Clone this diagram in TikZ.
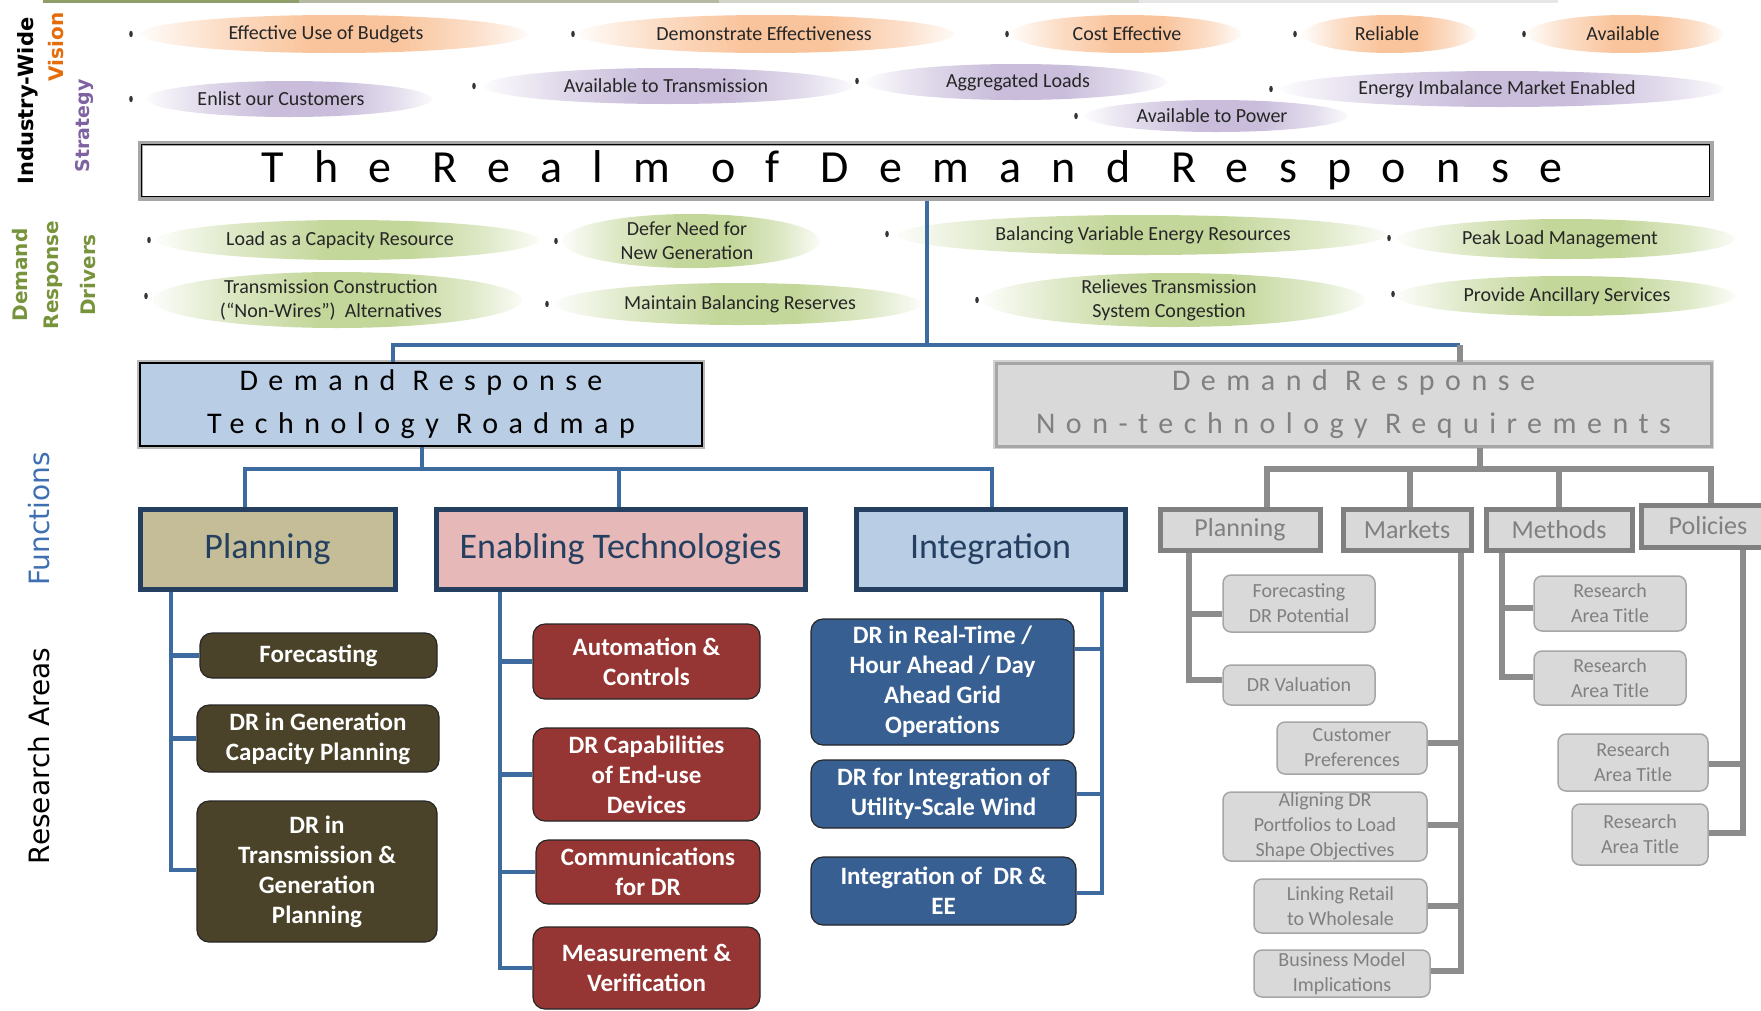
\documentclass[tikz,border=0pt]{standalone}
\usepackage{fontspec}
\setmainfont{Carlito}
\newfontfamily\dvs{DejaVu Sans}
\newfontfamily\ttlfont[LetterSpace=66]{Carlito}
\newfontfamily\hdfont[LetterSpace=35]{Carlito}
\usetikzlibrary{shapes.geometric}
\definecolor{visC}{HTML}{F9C49C}
\definecolor{strC}{HTML}{C9BDDB}
\definecolor{drvC}{HTML}{C4D79B}
\definecolor{navy}{HTML}{243F60}
\definecolor{conB}{HTML}{3D6A9F}
\definecolor{conG}{HTML}{8C8C8C}
\definecolor{tanF}{HTML}{C4BD97}
\definecolor{pinkF}{HTML}{E6B9B8}
\definecolor{lblueF}{HTML}{B9CDE5}
\definecolor{oliveB}{HTML}{4A4329}
\definecolor{redB}{HTML}{963634}
\definecolor{blueB}{HTML}{375F92}
\definecolor{grayF}{HTML}{D9D9D9}
\definecolor{grayT}{HTML}{808080}
\definecolor{grayL}{HTML}{A6A6A6}
\definecolor{orangeT}{HTML}{E46C0A}
\definecolor{purpleT}{HTML}{7F63A1}
\definecolor{greenT}{HTML}{77933C}
\definecolor{funcT}{HTML}{3F6FB3}
\definecolor{top1}{HTML}{8E9E6A}
\definecolor{top2}{HTML}{B5BBA2}
\definecolor{top3}{HTML}{D3D5CB}
\definecolor{top4}{HTML}{E6E6E6}
\pgfdeclarehorizontalshading{visshade}{100bp}{color(0bp)=(white); color(25bp)=(visC!5); color(36bp)=(visC!60); color(47bp)=(visC); color(58bp)=(visC); color(68bp)=(visC!55); color(75bp)=(visC!8); color(100bp)=(white)}
\pgfdeclarehorizontalshading{strshade}{100bp}{color(0bp)=(white); color(25bp)=(strC!5); color(36bp)=(strC!60); color(47bp)=(strC); color(58bp)=(strC); color(68bp)=(strC!55); color(75bp)=(strC!8); color(100bp)=(white)}
\pgfdeclarehorizontalshading{drvshade}{100bp}{color(0bp)=(white); color(25bp)=(drvC!5); color(36bp)=(drvC!60); color(47bp)=(drvC); color(58bp)=(drvC); color(68bp)=(drvC!55); color(75bp)=(drvC!8); color(100bp)=(white)}
\newcommand{\EL}[8]{\shade[shading=#2] (#3,#4) ellipse [x radius=#5pt, y radius=#6pt]; \node[eltext] (#1) at (#7,#4) {#8};}
\begin{document}
\begin{tikzpicture}[x=1pt,y=-1pt,
  eltext/.style={font=\fontsize{20}{24}\selectfont, text=black!85, align=center, inner sep=0},
  bconn/.style={draw=conB, line width=4.5pt},
  gconn/.style={draw=conG, line width=5.5pt},
  fbox/.style={draw=navy, line width=5pt, inner sep=0, font=\fontsize{36}{40}\selectfont, text=navy},
  rbox/.style={rounded corners=12pt, draw=black!85, line width=1.2pt, text=white, font=\bfseries\fontsize{25}{30}\selectfont, align=center, inner sep=0},
  gfbox/.style={draw=grayT, line width=5pt, fill=grayF, text=grayT, font=\fontsize{26}{30}\selectfont, inner sep=0},
  gbox/.style={rounded corners=8pt, draw=grayL, line width=1.5pt, fill=grayF, text=grayT, font=\fontsize{20}{25}\selectfont, align=center, inner sep=0},
  side/.style={rotate=90, inner sep=0}]
\useasboundingbox (0,0) rectangle (1761,1010);
\fill[top1] (43,0) rectangle (299,3);
\fill[top2] (299,0) rectangle (719,3);
\fill[top3] (719,0) rectangle (1139,3);
\fill[top4] (1139,0) rectangle (1558,3);
% side labels
\node[side, font=\dvs\bfseries\fontsize{21}{24}\selectfont, text=black] (lInd) at (28,101) {Industry-Wide};
\node[side, font=\dvs\bfseries\fontsize{20}{24}\selectfont, text=orangeT] (lVis) at (56,47) {Vision};
\node[side, font=\dvs\bfseries\fontsize{19}{24}\selectfont, text=purpleT] (lStr) at (84,126) {Strategy};
\node[side, font=\dvs\bfseries\fontsize{20}{24}\selectfont, text=greenT] (lDem) at (20,275) {Demand};
\node[side, font=\dvs\bfseries\fontsize{20}{24}\selectfont, text=greenT] (lRes) at (53,275) {Response};
\node[side, font=\dvs\bfseries\fontsize{20}{24}\selectfont, text=greenT] (lDrv) at (88,275) {Drivers};
\node[side, font=\dvs\fontsize{28}{32}\selectfont, text=funcT] (lFun) at (39,519) {Functions};
\node[side, font=\dvs\fontsize{28}{32}\selectfont, text=black] (lRA) at (39,756) {Research Areas};
% vision
\EL{v1}{visshade}{334}{34}{194}{19}{326}{Effective Use of Budgets}
\EL{v2}{visshade}{766}{34}{188}{19}{764}{Demonstrate Effectiveness}
\EL{v3}{visshade}{1126}{34}{115}{19}{1127}{Cost Effective}
\EL{v4}{visshade}{1390}{34}{87}{19}{1387}{Reliable}
\EL{v5}{visshade}{1625}{34}{98}{19}{1623}{Available}
% strategy
\EL{s1}{strshade}{289}{99}{143}{18}{281}{Enlist our Customers}
\EL{s2}{strshade}{668}{86}{185}{18}{666}{Available to Transmission}
\EL{s3}{strshade}{1016}{82}{151}{18}{1018}{Aggregated Loads}
\EL{s4}{strshade}{1502}{89}{222}{18}{1497}{Energy Imbalance Market Enabled}
\EL{s5}{strshade}{1216}{116}{132}{16}{1212}{Available to Power}
% drivers
\EL{d1}{drvshade}{348}{240}{191}{20}{340}{Load as a Capacity Resource}
\EL{d2}{drvshade}{691}{241}{129}{27}{687}{Defer Need for\\New Generation}
\EL{d3}{drvshade}{1142}{235}{245}{20}{1143}{Balancing Variable Energy Resources}
\EL{d4}{drvshade}{1566}{239}{169}{20}{1560}{Peak Load Management}
\EL{d5}{drvshade}{337}{300}{185}{28}{331}{Transmission Construction\\(“Non-Wires”)\ \ Alternatives}
\EL{d6}{drvshade}{738}{304}{183}{21}{740}{Maintain Balancing Reserves}
\EL{d7}{drvshade}{1174}{300}{191}{27}{1169}{Relieves Transmission\\System Congestion}
\EL{d8}{drvshade}{1566}{296}{169}{20}{1567}{Provide Ancillary Services}
% tiny bullets
\foreach \x/\y in {131/34,573/34,1007/34,1295/34,1524/34,131/99,474/86,857/81,1271/89,1076/116,149/240,556/241,887/234,1389/238,146/296,547/304,977/300,1393/294}
  \fill[black!80] (\x,\y) ellipse [x radius=1.8pt, y radius=3.2pt];
% title
\node[draw=gray!70, line width=5pt, fill=white, minimum width=1571pt, minimum height=55pt, inner sep=0, font=\ttlfont\fontsize{46}{50}\selectfont] (title) at (925.5,170.5) {The Realm of Demand Response\hspace*{27pt}};
\draw[line width=1.5pt] ([shift={(4pt,-4pt)}]title.north west) rectangle ([shift={(-4pt,4pt)}]title.south east);
% junctions
\coordinate (j1) at (927,345);
\coordinate (jl) at (393,345);
\coordinate (jr) at (1460,345);
\coordinate (j2) at (422,469);
\coordinate (t1) at (245,469);
\coordinate (t2) at (619,469);
\coordinate (t3) at (992,469);
\coordinate (k1) at (1480,469);
\coordinate (u1) at (1267,469);
\coordinate (u2) at (1410,469);
\coordinate (u3) at (1559,469);
\coordinate (u4) at (1711,469);
% second-level boxes
\node[draw=black, line width=2.5pt, preaction={draw=gray!55, line width=6pt}, fill=lblueF, minimum width=562pt, minimum height=83pt, inner sep=0, align=center, font=\hdfont\fontsize{30}{43}\selectfont] (rm) at (421,404.5) {Demand Response\\Technology Roadmap};
\node[draw=grayL, line width=3pt, preaction={draw=gray!35, line width=6pt}, fill=grayF, text=grayT, minimum width=715pt, minimum height=83pt, inner sep=0, align=center, font=\hdfont\fontsize{30}{43}\selectfont] (nt) at (1353.5,404.5) {Demand Response\\Non-technology Requirements};
% functions
\node[fbox, fill=tanF, minimum width=255pt, minimum height=80pt] (fplan) at (267.5,549) {Planning};
\node[fbox, fill=pinkF, minimum width=369pt, minimum height=80pt] (fenab) at (620.5,549) {Enabling Technologies};
\node[fbox, fill=lblueF, minimum width=269pt, minimum height=80pt] (finteg) at (990.5,549) {Integration};
\node[gfbox, minimum width=160pt, minimum height=41pt] (gplan) at (1240,529.5) {Planning};
\node[gfbox, minimum width=128pt, minimum height=41pt] (gmark) at (1407,529.5) {Markets};
\node[gfbox, minimum width=146pt, minimum height=41pt] (gmeth) at (1559,529.5) {Methods};
\node[gfbox, minimum width=133pt, minimum height=42pt] (gpol) at (1708,526) {Policies};
% research areas
\node[rbox, fill=oliveB, minimum width=237pt, minimum height=45pt] (rp1) at (318.5,655.5) {Forecasting};
\node[rbox, fill=oliveB, minimum width=242pt, minimum height=67pt] (rp2) at (318,738.5) {DR in Generation\\Capacity Planning};
\node[rbox, fill=oliveB, minimum width=240pt, minimum height=141pt] (rp3) at (317,871.5) {DR in\\Transmission \&\\Generation\\Planning};
\node[rbox, fill=redB, minimum width=227pt, minimum height=75pt] (re1) at (646.5,661.5) {Automation \&\\Controls};
\node[rbox, fill=redB, minimum width=227pt, minimum height=93pt] (re2) at (646.5,774.5) {DR Capabilities\\of End-use\\Devices};
\node[rbox, fill=redB, minimum width=224pt, minimum height=64pt] (re3) at (648,872) {Communications\\for DR};
\node[rbox, fill=redB, minimum width=227pt, minimum height=82pt] (re4) at (646.5,968) {Measurement \&\\Verification};
\node[rbox, fill=blueB, minimum width=263pt, minimum height=126pt] (ri1) at (942.5,682) {DR in Real-Time /\\Hour Ahead / Day\\Ahead Grid\\Operations};
\node[rbox, fill=blueB, minimum width=265pt, minimum height=68pt] (ri2) at (943.5,794) {DR for Integration of\\Utility-Scale Wind};
\node[rbox, fill=blueB, minimum width=265pt, minimum height=68pt] (ri3) at (943.5,891) {Integration of\ \ DR \&\\EE};
\node[gbox, minimum width=152pt, minimum height=57pt] (gp1) at (1299,603.5) {Forecasting\\DR Potential};
\node[gbox, minimum width=152pt, minimum height=40pt] (gp2) at (1299,685) {DR Valuation};
\node[gbox, minimum width=150pt, minimum height=52pt] (gm1) at (1352,748) {Customer\\Preferences};
\node[gbox, minimum width=204pt, minimum height=69pt] (gm2) at (1325,826.5) {Aligning DR\\Portfolios to Load\\Shape Objectives};
\node[gbox, minimum width=173pt, minimum height=54pt] (gm3) at (1340.5,906) {Linking Retail\\to Wholesale};
\node[gbox, minimum width=176pt, minimum height=47pt] (gm4) at (1342,973.5) {Business Model\\Implications};
\node[gbox, minimum width=152pt, minimum height=55pt] (gt1) at (1610,603.5) {Research\\Area Title};
\node[gbox, minimum width=152pt, minimum height=54pt] (gt2) at (1610,678) {Research\\Area Title};
\node[gbox, minimum width=150pt, minimum height=57pt] (gq1) at (1633,762.5) {Research\\Area Title};
\node[gbox, minimum width=136pt, minimum height=61pt] (gq2) at (1640,834.5) {Research\\Area Title};
% top connectors
\draw[bconn] (title.south -| j1) -- (j1);
\draw[bconn] (rm.north -| jl) -- (jl) -- (jr);
\draw[gconn] (jr) -- (nt.north -| jr);
\draw[bconn] (rm.south -| j2) -- (j2);
\draw[bconn] (fplan.north -| t1) -- (t1) -- (t3) -- (finteg.north -| t3);
\draw[bconn] (t2) -- (fenab.north -| t2);
\draw[gconn] (nt.south -| k1) -- (k1);
\draw[gconn] (gplan.north -| u1) -- (u1) -- (u4) -- (gpol.north -| u4);
\draw[gconn] (u2) -- (gmark.north -| u2);
\draw[gconn] (u3) -- (gmeth.north -| u3);
% planning column
\coordinate (pv) at (171,870);
\draw[bconn] (fplan.south -| pv) -- (pv) -- (pv -| rp3.west);
\draw[bconn] (rp1.west) -- (rp1.west -| pv);
\draw[bconn] (rp2.west) -- (rp2.west -| pv);
% enabling column
\coordinate (ev) at (500,968);
\draw[bconn] (fenab.south -| ev) -- (ev) -- (ev -| re4.west);
\draw[bconn] (re1.west) -- (re1.west -| ev);
\draw[bconn] (re2.west) -- (re2.west -| ev);
\draw[bconn] (re3.west) -- (re3.west -| ev);
% integration column
\coordinate (iv) at (1102,893);
\coordinate (ib1) at (1102,649);
\draw[bconn] (finteg.south -| iv) -- (iv) -- (iv -| ri3.east);
\draw[bconn] (ib1) -- (ib1 -| ri1.east);
\draw[bconn] (ri2.east) -- (ri2.east -| iv);
% gray planning
\coordinate (gpv) at (1189,680);
\coordinate (gpb) at (1189,614);
\draw[gconn] (gplan.south -| gpv) -- (gpv) -- (gpv -| gp2.west);
\draw[gconn] (gpb) -- (gpb -| gp1.west);
% gray markets
\coordinate (gmv) at (1461,971);
\coordinate (gmb1) at (1461,743);
\coordinate (gmb2) at (1461,825);
\coordinate (gmb3) at (1461,906);
\draw[gconn] (gmark.south -| gmv) -- (gmv) -- (gmv -| gm4.east);
\draw[gconn] (gmb1) -- (gmb1 -| gm1.east);
\draw[gconn] (gmb2) -- (gmb2 -| gm2.east);
\draw[gconn] (gmb3) -- (gmb3 -| gm3.east);
% gray methods
\coordinate (gtv) at (1502,677);
\coordinate (gtb) at (1502,608);
\draw[gconn] (gmeth.south -| gtv) -- (gtv) -- (gtv -| gt2.west);
\draw[gconn] (gtb) -- (gtb -| gt1.west);
% gray policies
\coordinate (gqv) at (1743,833);
\coordinate (gqb) at (1743,764);
\draw[gconn] (gpol.south -| gqv) -- (gqv) -- (gqv -| gq2.east);
\draw[gconn] (gqb) -- (gqb -| gq1.east);
\end{tikzpicture}
\end{document}
